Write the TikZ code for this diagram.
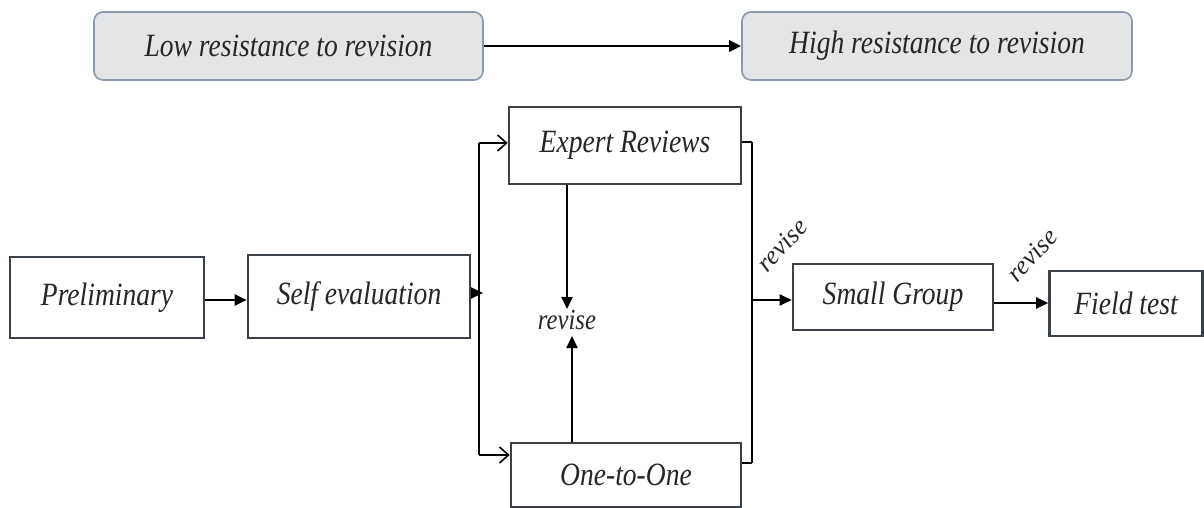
\documentclass[tikz,border=0pt]{standalone}
\usepackage{fontspec}
\setmainfont{Liberation Serif}
\usetikzlibrary{arrows.meta,calc}
\definecolor{boxline}{HTML}{3A404A}
\definecolor{topline}{HTML}{8A9AAC}
\definecolor{topfill}{HTML}{E4E5E7}
\definecolor{txt}{HTML}{262626}
\newcommand{\tallt}[1]{\scalebox{0.95}[1.12]{#1}}
\begin{document}
\begin{tikzpicture}[x=1pt,y=-1pt,
  stagebox/.style={draw=boxline,line width=2.6pt,fill=white,inner sep=0pt,text=txt,font=\itshape\fontsize{29}{32}\selectfont},
  topbox/.style={draw=topline,line width=1.6pt,fill=topfill,rounded corners=9pt,inner sep=0pt,text=txt,font=\itshape\fontsize{29}{32}\selectfont},
  conn/.style={line width=2pt,black},
  filledtip/.style={conn,-{Triangle[length=12pt,width=11pt]}},
  opentip/.style={conn,-{Straight Barb[length=9pt,width=16pt,line width=1.6pt]}},
  lbl/.style={text=txt,inner sep=1pt,font=\itshape\fontsize{26}{30}\selectfont}
]
\useasboundingbox (0,0) rectangle (1204,508);
% top
\node[topbox,minimum width=389pt,minimum height=68pt] (low) at (288.5,46) {\tallt{Low resistance to revision}};
\node[topbox,minimum width=390pt,minimum height=68pt] (high) at (937,46) {\tallt{High resistance to revision}};
\draw[filledtip,line width=2.8pt] (low.east) -- (high.west);
% stages
\node[stagebox,minimum width=194pt,minimum height=81pt] (pre) at (107,297.5) {\tallt{Preliminary}};
\node[stagebox,minimum width=222pt,minimum height=83pt] (self) at (359,296.5) {\tallt{Self evaluation}};
\node[stagebox,minimum width=232pt,minimum height=77pt] (exp) at (625,145.5) {\tallt{Expert Reviews}};
\node[stagebox,minimum width=230pt,minimum height=64pt] (one) at (626,475) {\tallt{One-to-One}};
\node[stagebox,minimum width=200pt,minimum height=66pt] (small) at (893,297) {\tallt{Small Group}};
\node[stagebox,minimum width=153pt,minimum height=65pt] (field) at (1126,303.5) {\tallt{Field test}};
\node[lbl] (rmid) at (567,320) {\tallt{revise}};
\node[lbl,rotate=47] (r1) at (782,245) {revise};
\node[lbl,rotate=47] (r2) at (1032,255) {revise};
% split
\coordinate (st) at (479,143);
\coordinate (sb) at (479,455);
\coordinate (sm) at (483,293);
\draw[conn] (st) -- (sb);
\draw[opentip] (st) -- (st -| exp.west);
\draw[opentip] (sb) -- (sb -| one.west);
\draw[filledtip] (pre.east |- 0,300) -- (self.west |- 0,300);
\draw[filledtip] (self.east |- sm) -- (sm);
% middle
\draw[filledtip] (exp.south -| rmid) -- (rmid.north);
\draw[filledtip] (one.north -| 572,0) -- (572,336);
% bracket
\coordinate (bt) at (752,142);
\coordinate (bb) at (752,463);
\coordinate (bm) at (752,300);
\draw[conn] (bt) -- (bb);
\draw[conn] (exp.east |- bt) -- (bt);
\draw[conn] (one.east |- bb) -- (bb);
\draw[filledtip] (bm) -- (bm -| small.west);
\draw[filledtip] (small.east |- 0,303) -- (field.west |- 0,303);
\end{tikzpicture}
\end{document}
